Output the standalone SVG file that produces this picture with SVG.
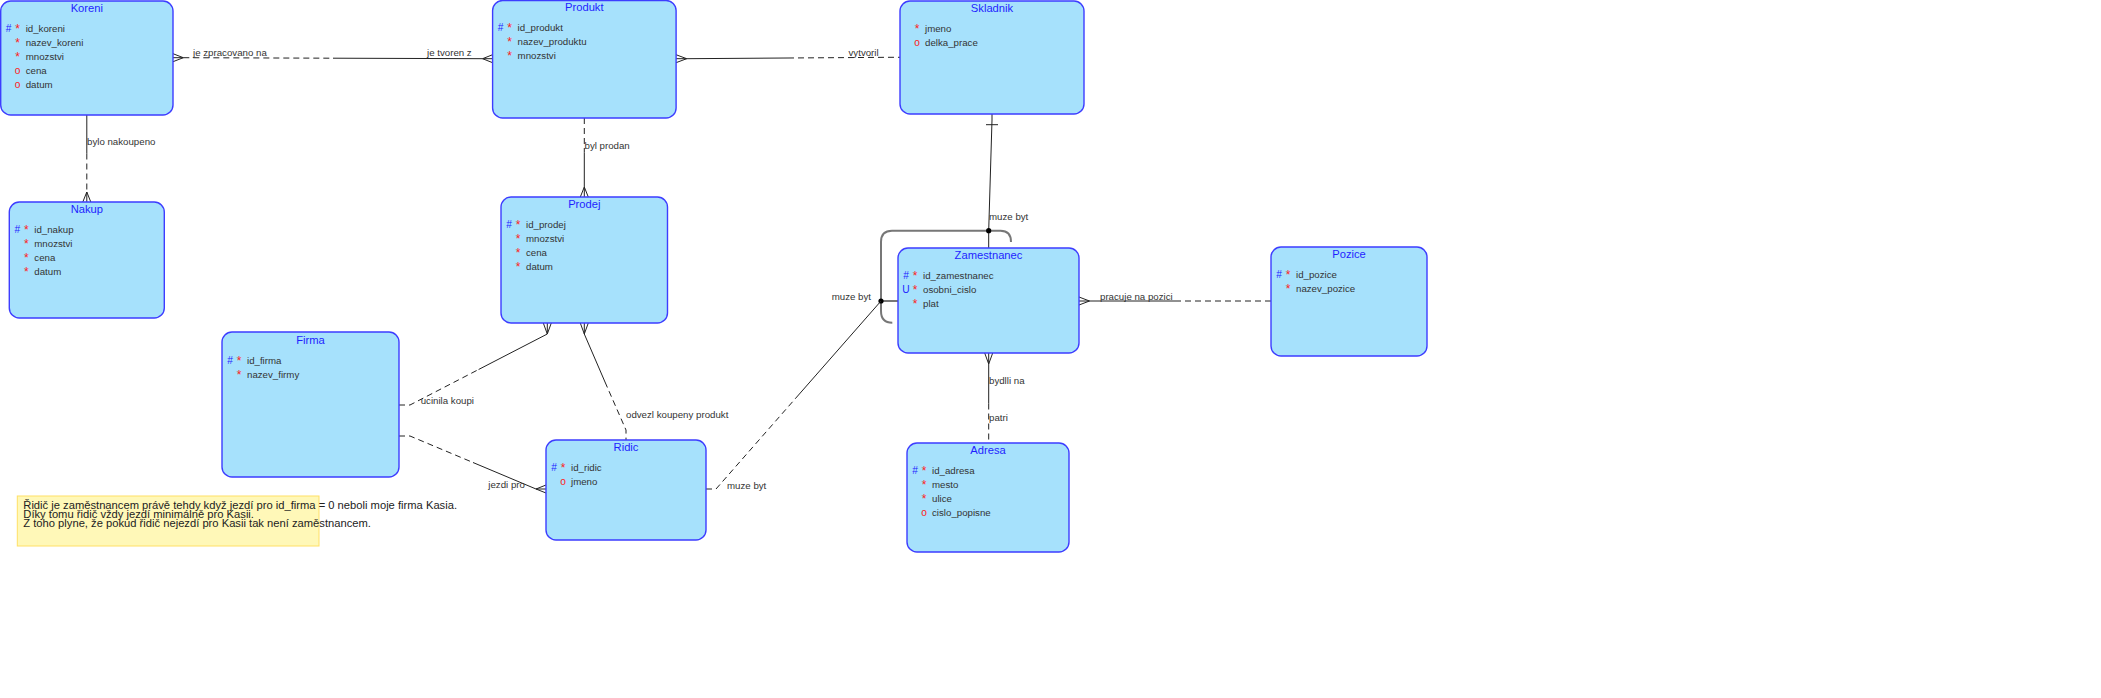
<svg xmlns="http://www.w3.org/2000/svg" width="2101" height="698" viewBox="0 0 2101 698">
<style>
.box{fill:#a6e1fc;stroke:#3d3dff;stroke-width:1.4}
.t{font-family:"Liberation Sans",Arial,sans-serif;font-size:11.2px;fill:#1f1fff;text-anchor:middle}
.r{font-family:"Liberation Sans",Arial,sans-serif;font-size:9.7px;fill:#333}
.h{font-family:"Liberation Sans",Arial,sans-serif;font-size:10.2px;fill:#1f1fff;text-anchor:middle}
.s{font-family:"Liberation Sans",Arial,sans-serif;font-size:12px;fill:#ff2020;text-anchor:middle}
.o{font-family:"Liberation Sans",Arial,sans-serif;font-size:10.2px;fill:#ff2020;text-anchor:middle}
.l{font-family:"Liberation Sans",Arial,sans-serif;font-size:9.7px;fill:#333}
.ln{fill:none;stroke:#222;stroke-width:1}
.ds{fill:none;stroke:#222;stroke-width:1;stroke-dasharray:6 4}
.arc{fill:none;stroke:#777;stroke-width:2}
.note{fill:#fff8b8;stroke:#ffe066;stroke-width:1}
.nt{font-family:"Liberation Sans",Arial,sans-serif;font-size:11.2px;fill:#222}
</style>
<rect width="2101" height="698" fill="#ffffff"/>
<g id="connectors">
<path class="ln" d="M173,53.7 L183.3,57.7 L173,61.7 M173,57.7 H183.3"/>
<path class="ds" d="M183.3,57.7 L333,58.2"/>
<path class="ln" d="M333,58.2 L482.6,58.7"/>
<path class="ln" d="M492.6,54.7 L482.6,58.7 L492.6,62.7 M492.6,58.7 H482.6"/>
<path class="ln" d="M86.8,115 V153.5"/>
<path class="ds" d="M86.8,153.5 V192"/>
<path class="ln" d="M82.8,202 L86.8,192 L90.8,202 M86.8,202 V192"/>
<path class="ds" d="M584.3,118 V152.5"/>
<path class="ln" d="M584.3,152.5 V187"/>
<path class="ln" d="M580.3,197 L584.3,187 L588.3,197 M584.3,197 V187"/>
<path class="ln" d="M676,54.7 L686.7,58.7 L676,62.7 M676,58.7 H686.7"/>
<path class="ln" d="M686.7,58.7 L788,58"/>
<path class="ds" d="M788,58 L890,57.3 L900,57.3"/>
<path class="ln" d="M992,114 L992,120 L988.7,230.7 L988.7,248"/>
<path class="ln" d="M986,124.7 H998"/>
<path class="arc" d="M892.3,322.7 Q881,322.7 881,311 L881,242 Q881,230.7 892,230.7 L1000.5,230.7 Q1011,230.7 1011,242"/>
<path class="arc" d="M881,301 H898"/>
<circle cx="988.7" cy="230.7" r="2.6" fill="#000"/>
<circle cx="881" cy="301" r="2.6" fill="#000"/>
<path class="ds" d="M706,489 L716,489 L798.5,395"/>
<path class="ln" d="M798.5,395 L881,301"/>
<path class="ln" d="M1079,297 L1089.5,301 L1079,305 M1079,301 H1089.5"/>
<path class="ln" d="M1089.5,301 H1175"/>
<path class="ds" d="M1175,301 H1271"/>
<path class="ln" d="M984.7,353 L988.7,364 L992.7,353 M988.7,353 V364"/>
<path class="ln" d="M988.7,364 V403.5"/>
<path class="ds" d="M988.7,403.5 V443"/>
<path class="ds" d="M399,405 L410,405 L478.6,369.5"/>
<path class="ln" d="M478.6,369.5 L547.3,334"/>
<path class="ln" d="M543.3,323 L547.3,334 L551.3,323 M547.3,323 V334"/>
<path class="ds" d="M399,436 L410,436 L473,462.5"/>
<path class="ln" d="M473,462.5 L536,489"/>
<path class="ln" d="M546,485 L536,489 L546,493 M546,489 H536"/>
<path class="ln" d="M580.3,323 L584.3,334 L588.3,323 M584.3,323 V334"/>
<path class="ln" d="M584.3,334 L605,382"/>
<path class="ds" d="M605,382 L626,430 L626,440"/>
<text class="l" x="193" y="56">je zpracovano na</text>
<text class="l" x="427" y="56">je tvoren z</text>
<text class="l" x="848.5" y="55.5">vytvoril</text>
<text class="l" x="87" y="145">bylo nakoupeno</text>
<text class="l" x="584.5" y="148.5">byl prodan</text>
<text class="l" x="989" y="219.5">muze byt</text>
<text class="l" x="871" y="299.5" text-anchor="end">muze byt</text>
<text class="l" x="1100" y="299.5">pracuje na pozici</text>
<text class="l" x="989" y="384">bydlli na</text>
<text class="l" x="989" y="420.5">patri</text>
<text class="l" x="420.7" y="403.5">ucinila koupi</text>
<text class="l" x="488.3" y="488">jezdi pro</text>
<text class="l" x="626" y="417.5">odvezl koupeny produkt</text>
<text class="l" x="727" y="488.5">muze byt</text>
</g>
<g id="koreni">
<rect class="box" x="0.7" y="1" width="172.3" height="114" rx="10"/>
<text class="t" x="86.8" y="12">Koreni</text>
<text class="h" x="8.7" y="31.5">#</text><text class="s" x="17.7" y="33">*</text><text class="r" x="25.7" y="32">id_koreni</text>
<text class="s" x="17.7" y="47">*</text><text class="r" x="25.7" y="46">nazev_koreni</text>
<text class="s" x="17.7" y="61">*</text><text class="r" x="25.7" y="60">mnozstvi</text>
<text class="o" x="17.7" y="73.5">o</text><text class="r" x="25.7" y="74">cena</text>
<text class="o" x="17.7" y="87.5">o</text><text class="r" x="25.7" y="88">datum</text>
</g>
<g id="nakup">
<rect class="box" x="9.3" y="202" width="155" height="116" rx="10"/>
<text class="t" x="86.8" y="213">Nakup</text>
<text class="h" x="17.3" y="232.5">#</text><text class="s" x="26.3" y="234">*</text><text class="r" x="34.3" y="233">id_nakup</text>
<text class="s" x="26.3" y="248">*</text><text class="r" x="34.3" y="247">mnozstvi</text>
<text class="s" x="26.3" y="262">*</text><text class="r" x="34.3" y="261">cena</text>
<text class="s" x="26.3" y="276">*</text><text class="r" x="34.3" y="275">datum</text>
</g>
<g id="produkt">
<rect class="box" x="492.6" y="0.5" width="183.5" height="117.5" rx="10"/>
<text class="t" x="584.3" y="11">Produkt</text>
<text class="h" x="500.6" y="30.5">#</text><text class="s" x="509.6" y="32">*</text><text class="r" x="517.6" y="31">id_produkt</text>
<text class="s" x="509.6" y="46">*</text><text class="r" x="517.6" y="45">nazev_produktu</text>
<text class="s" x="509.6" y="60">*</text><text class="r" x="517.6" y="59">mnozstvi</text>
</g>
<g id="skladnik">
<rect class="box" x="900" y="1" width="184" height="113" rx="10"/>
<text class="t" x="992" y="12">Skladnik</text>
<text class="s" x="917" y="33">*</text><text class="r" x="925" y="32">jmeno</text>
<text class="o" x="917" y="45.5">o</text><text class="r" x="925" y="46">delka_prace</text>
</g>
<g id="prodej">
<rect class="box" x="501" y="197" width="166.5" height="126" rx="10"/>
<text class="t" x="584.3" y="208">Prodej</text>
<text class="h" x="509" y="227.5">#</text><text class="s" x="518" y="229">*</text><text class="r" x="526" y="228">id_prodej</text>
<text class="s" x="518" y="243">*</text><text class="r" x="526" y="242">mnozstvi</text>
<text class="s" x="518" y="257">*</text><text class="r" x="526" y="256">cena</text>
<text class="s" x="518" y="271">*</text><text class="r" x="526" y="270">datum</text>
</g>
<g id="firma">
<rect class="box" x="222" y="332" width="177" height="145" rx="10"/>
<text class="t" x="310.5" y="343.5">Firma</text>
<text class="h" x="230" y="363.5">#</text><text class="s" x="239" y="365">*</text><text class="r" x="247" y="364">id_firma</text>
<text class="s" x="239" y="379">*</text><text class="r" x="247" y="378">nazev_firmy</text>
</g>
<g id="ridic">
<rect class="box" x="546" y="440" width="160" height="100" rx="10"/>
<text class="t" x="626" y="451">Ridic</text>
<text class="h" x="554" y="470.5">#</text><text class="s" x="563" y="472">*</text><text class="r" x="571" y="471">id_ridic</text>
<text class="o" x="563" y="484.5">o</text><text class="r" x="571" y="485">jmeno</text>
</g>
<g id="zamestnanec">
<rect class="box" x="898" y="248" width="181" height="105" rx="10"/>
<text class="t" x="988.5" y="259">Zamestnanec</text>
<text class="h" x="906" y="278.5">#</text><text class="s" x="915" y="280">*</text><text class="r" x="923" y="279">id_zamestnanec</text>
<text class="h" x="906" y="292.5">U</text><text class="s" x="915" y="294">*</text><text class="r" x="923" y="293">osobni_cislo</text>
<text class="s" x="915" y="308">*</text><text class="r" x="923" y="307">plat</text>
</g>
<g id="pozice">
<rect class="box" x="1271" y="247" width="156" height="109" rx="10"/>
<text class="t" x="1349" y="258">Pozice</text>
<text class="h" x="1279" y="277.5">#</text><text class="s" x="1288" y="279">*</text><text class="r" x="1296" y="278">id_pozice</text>
<text class="s" x="1288" y="293">*</text><text class="r" x="1296" y="292">nazev_pozice</text>
</g>
<g id="adresa">
<rect class="box" x="907" y="443" width="162" height="109" rx="10"/>
<text class="t" x="988" y="454">Adresa</text>
<text class="h" x="915" y="473.5">#</text><text class="s" x="924" y="475">*</text><text class="r" x="932" y="474">id_adresa</text>
<text class="s" x="924" y="489">*</text><text class="r" x="932" y="488">mesto</text>
<text class="s" x="924" y="503">*</text><text class="r" x="932" y="502">ulice</text>
<text class="o" x="924" y="515.5">o</text><text class="r" x="932" y="516">cislo_popisne</text>
</g>
<g id="note">
<rect class="note" x="17.3" y="496" width="301.7" height="50"/>
<text class="nt" x="23.3" y="508.5">Řidič je zaměstnancem právě tehdy když jezdí pro id_firma = 0 neboli moje firma Kasia.</text>
<text class="nt" x="23.3" y="517.5">Díky tomu řidič vždy jezdí minimálně pro Kasii.</text>
<text class="nt" x="23.3" y="526.5">Z toho plyne, že pokud řidič nejezdí pro Kasii tak není zaměstnancem.</text>
</g>
</svg>
